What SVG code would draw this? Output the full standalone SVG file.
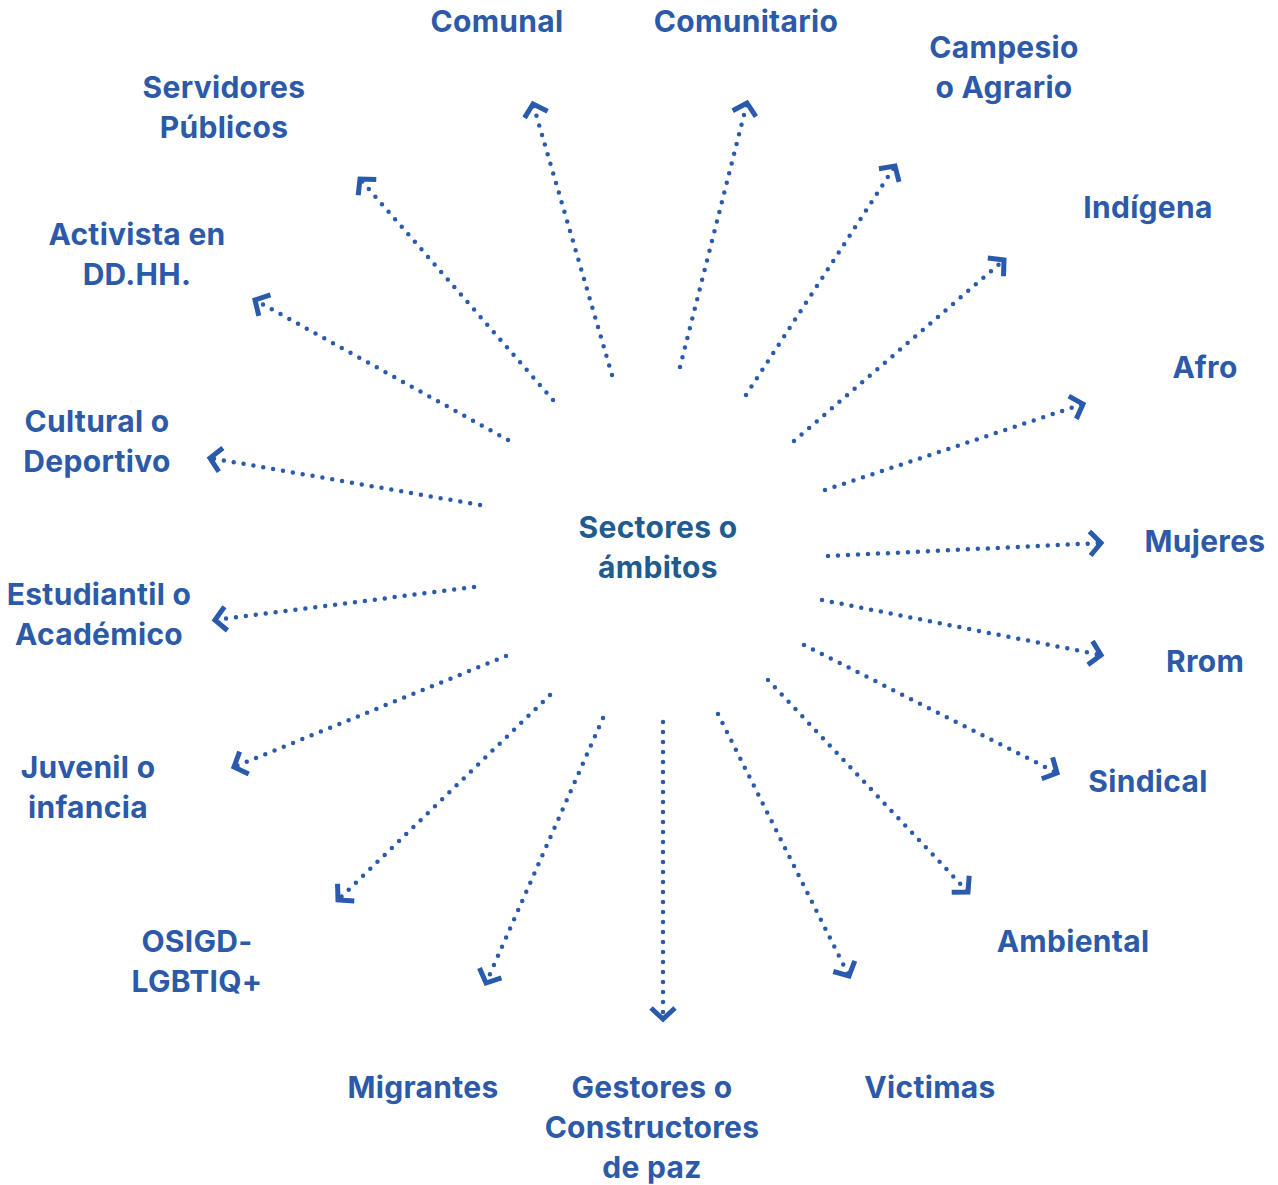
<svg xmlns="http://www.w3.org/2000/svg" width="1278" height="1185" viewBox="0 0 1278 1185">
<defs>
<style>
.lbl{font-family:Inter,"Open Sans","DejaVu Sans",sans-serif;font-weight:700;font-size:30px;letter-spacing:0.3px;fill:#2c5aa8;text-anchor:middle}
.ctr{fill:#1f5b8f}
.con line{stroke:#2a5aab;stroke-width:4.5;stroke-linecap:round;stroke-dasharray:0 10;fill:none;marker-end:url(#chev)}
</style>
<marker id="chev" markerUnits="userSpaceOnUse" markerWidth="40" markerHeight="40" viewBox="-20 -20 40 40" refX="0" refY="0" orient="auto">
<path d="M -11 -12 L 0 0 L -11 12" fill="none" stroke="#2a5aab" stroke-width="5" stroke-linejoin="miter"/>
</marker>
</defs>
<rect width="1278" height="1185" fill="#ffffff"/>
<g id="connectors" class="con">
<line x1="612" y1="375" x2="533" y2="104"/>
<line x1="680" y1="367" x2="747" y2="103"/>
<line x1="746" y1="395" x2="895" y2="166"/>
<line x1="794" y1="441" x2="1004" y2="260"/>
<line x1="825" y1="490" x2="1083" y2="404"/>
<line x1="828" y1="556" x2="1101" y2="543"/>
<line x1="822" y1="600" x2="1101" y2="655"/>
<line x1="804" y1="645" x2="1057" y2="773"/>
<line x1="768" y1="680" x2="968" y2="892"/>
<line x1="718" y1="714" x2="849" y2="976"/>
<line x1="663" y1="722" x2="663" y2="1019"/>
<line x1="603" y1="718" x2="486" y2="983"/>
<line x1="550" y1="695" x2="338" y2="900"/>
<line x1="506" y1="656" x2="234" y2="767"/>
<line x1="474" y1="587" x2="215" y2="620"/>
<line x1="480" y1="505" x2="210" y2="458"/>
<line x1="508" y1="440" x2="255" y2="300"/>
<line x1="553" y1="400" x2="360" y2="179"/>
</g>
<g id="center"><text class="lbl ctr" x="658" y="538">Sectores o</text><text class="lbl ctr" x="658" y="578">ámbitos</text></g>
<g id="comunal"><text class="lbl" x="497" y="32">Comunal</text></g>
<g id="comunitario"><text class="lbl" x="746" y="32">Comunitario</text></g>
<g id="campesio"><text class="lbl" x="1004" y="58">Campesio</text><text class="lbl" x="1004" y="98">o Agrario</text></g>
<g id="indigena"><text class="lbl" x="1148" y="218">Indígena</text></g>
<g id="afro"><text class="lbl" x="1205" y="378">Afro</text></g>
<g id="mujeres"><text class="lbl" x="1205" y="552">Mujeres</text></g>
<g id="rrom"><text class="lbl" x="1205" y="672">Rrom</text></g>
<g id="sindical"><text class="lbl" x="1148" y="792">Sindical</text></g>
<g id="ambiental"><text class="lbl" x="1073" y="952">Ambiental</text></g>
<g id="victimas"><text class="lbl" x="930" y="1098">Victimas</text></g>
<g id="gestores"><text class="lbl" x="652" y="1098">Gestores o</text><text class="lbl" x="652" y="1138">Constructores</text><text class="lbl" x="652" y="1178">de paz</text></g>
<g id="migrantes"><text class="lbl" x="423" y="1098">Migrantes</text></g>
<g id="osigd"><text class="lbl" x="197" y="952">OSIGD-</text><text class="lbl" x="197" y="992">LGBTIQ+</text></g>
<g id="juvenil"><text class="lbl" x="88" y="778">Juvenil o</text><text class="lbl" x="88" y="818">infancia</text></g>
<g id="estudiantil"><text class="lbl" x="99" y="605">Estudiantil o</text><text class="lbl" x="99" y="645">Académico</text></g>
<g id="cultural"><text class="lbl" x="97" y="432">Cultural o</text><text class="lbl" x="97" y="472">Deportivo</text></g>
<g id="activista"><text class="lbl" x="137" y="245">Activista en</text><text class="lbl" x="137" y="285">DD.HH.</text></g>
<g id="servidores"><text class="lbl" x="224" y="98">Servidores</text><text class="lbl" x="224" y="138">Públicos</text></g>
</svg>
